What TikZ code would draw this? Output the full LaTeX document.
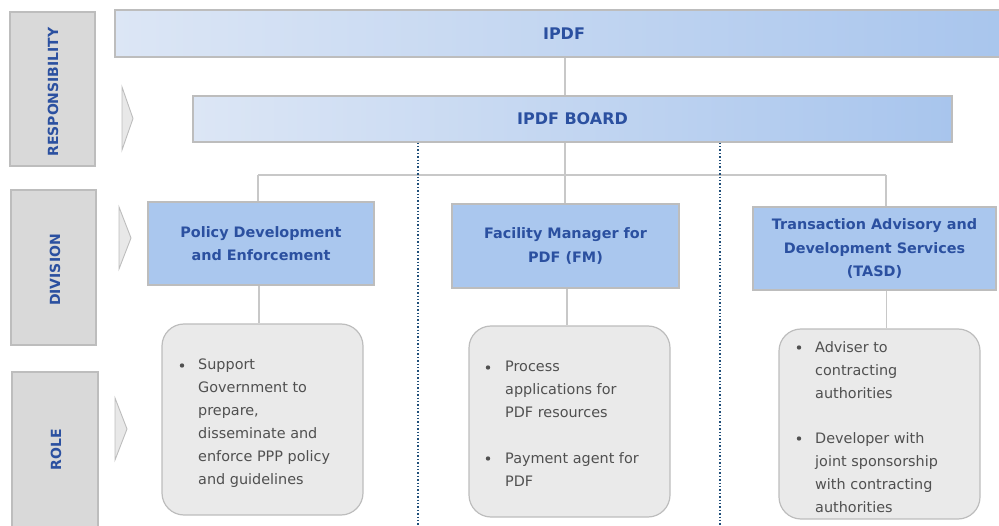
\documentclass[tikz,border=0pt]{standalone}
\usepackage{fontspec}
\setmainfont{DejaVu Sans}
\definecolor{headblue}{HTML}{2B50A0}
\definecolor{bodygray}{HTML}{505050}
\definecolor{edgegray}{HTML}{BDBDBD}
\definecolor{tabfill}{HTML}{D9D9D9}
\definecolor{chevfill}{HTML}{E8E8E8}
\definecolor{barleft}{HTML}{DCE6F5}
\definecolor{barright}{HTML}{A8C5ED}
\definecolor{divfill}{HTML}{AAC7EE}
\definecolor{rolefill}{HTML}{EAEAEA}
\definecolor{linkgray}{HTML}{C8C8C8}
\definecolor{sepblue}{HTML}{1F4E79}
\begin{document}
\begin{tikzpicture}[x=1pt,y=-1pt,
  tab/.style={draw=edgegray,line width=1.2pt,fill=tabfill,inner sep=0pt},
  tablabel/.style={rotate=90,text=headblue,font=\fontsize{14}{16}\selectfont\bfseries},
  chevron/.style={draw=edgegray,line width=0.9pt,fill=chevfill,line join=miter},
  bar/.style={draw=edgegray,line width=1.2pt,left color=barleft,right color=barright,inner sep=0pt,
    text=headblue,font=\fontsize{16}{18}\selectfont\bfseries},
  divbox/.style={draw=edgegray,line width=1.2pt,fill=divfill,inner sep=0pt,align=center,
    text=headblue,font=\fontsize{14.4}{23.5}\selectfont\bfseries},
  rolebox/.style={draw=edgegray,line width=1.2pt,fill=rolefill,rounded corners=22pt,inner sep=0pt},
  roletext/.style={anchor=north west,inner sep=0pt,align=left,text=bodygray,
    font=\fontsize{14.4}{23}\selectfont},
  dot/.style={fill=bodygray},
  link/.style={draw=linkgray,line width=1.5pt},
  sep/.style={draw=sepblue,line width=1.4pt,dotted}
]
\useasboundingbox (0,0) rectangle (999,526);
\clip (0,0) rectangle (999,526);

% row headings on the left
\node[tab,minimum width=85pt,minimum height=154pt] (tresp) at (52.5,89) {};
\node[tablabel] (lresp) at (53,92) {RESPONSIBILITY};
\node[tab,minimum width=85pt,minimum height=155pt] (tdiv) at (53.5,267.5) {};
\node[tablabel] (ldiv) at (55,270) {DIVISION};
\node[tab,minimum width=86pt,minimum height=170pt] (trole) at (55,457) {};
\node[tablabel] (lrole) at (56,450) {ROLE};

% chevrons
\draw[chevron] (122,87) -- (133,118.5) -- (122,150) -- cycle;
\draw[chevron] (119,207) -- (131,238) -- (119,269) -- cycle;
\draw[chevron] (115,398) -- (127,429) -- (115,460) -- cycle;

% responsibility bars
\node[bar,minimum width=898pt,minimum height=47pt] (ipdf) at (564,33.5) {IPDF};
\node[bar,minimum width=759pt,minimum height=46pt] (board) at (572.5,119) {IPDF BOARD};

% divisions
\node[divbox,minimum width=226pt,minimum height=83pt] (pde) at (261,243.5)
  {Policy Development\\and Enforcement};
\node[divbox,minimum width=227pt,minimum height=84pt] (fm) at (565.5,246)
  {Facility Manager for\\PDF (FM)};
\node[divbox,minimum width=243pt,minimum height=83pt] (tasd) at (874.5,248.5)
  {Transaction Advisory and\\Development Services\\(TASD)};

% roles
\node[rolebox,minimum width=201pt,minimum height=191pt] (r1) at (262.5,419.5) {};
\node[rolebox,minimum width=201pt,minimum height=191pt] (r2) at (569.5,421.5) {};
\node[rolebox,minimum width=201pt,minimum height=190pt] (r3) at (879.5,424) {};

\fill[dot] (182,365.5) circle (2.2);
\node[roletext] (r1a) at (198,359)
  {Support\\Government to\\prepare,\\disseminate and\\enforce PPP policy\\and guidelines};

\fill[dot] (488,367.5) circle (2.2);
\node[roletext] (r2a) at (505,361) {Process\\applications for\\PDF resources};
\fill[dot] (488,458.5) circle (2.2);
\node[roletext] (r2b) at (505,452) {Payment agent for\\PDF};

\fill[dot] (799,347.5) circle (2.2);
\node[roletext] (r3a) at (815,341) {Adviser to\\contracting\\authorities};
\fill[dot] (799,438.5) circle (2.2);
\node[roletext] (r3b) at (815,432) {Developer with\\joint sponsorship\\with contracting\\authorities};

% connectors
\coordinate (hub) at (565,175);
\coordinate (jl) at (258,175);
\coordinate (jr) at (886,175);
\draw[link] (ipdf.south -| hub) -- (board.north -| hub);
\draw[link] (board.south -| hub) -- (hub);
\draw[link] (jl) -- (jr);
\draw[link] (jl) -- (pde.north -| jl);
\draw[link] (hub) -- (fm.north -| hub);
\draw[link] (jr) -- (tasd.north -| jr);
\draw[link] ([xshift=-2pt]pde.south) -- ([xshift=-2pt]pde.south |- r1.north);
\draw[link] ([xshift=1.5pt]fm.south) -- ([xshift=1.5pt]fm.south |- r2.north);
\draw[link] ([xshift=12pt]tasd.south) -- ([xshift=12pt]tasd.south |- r3.north);

% dotted separators between the divisions
\coordinate (sepa) at (418,526);
\coordinate (sepb) at (720,526);
\draw[sep] (board.south -| sepa) -- (sepa);
\draw[sep] (board.south -| sepb) -- (sepb);
\end{tikzpicture}
\end{document}
